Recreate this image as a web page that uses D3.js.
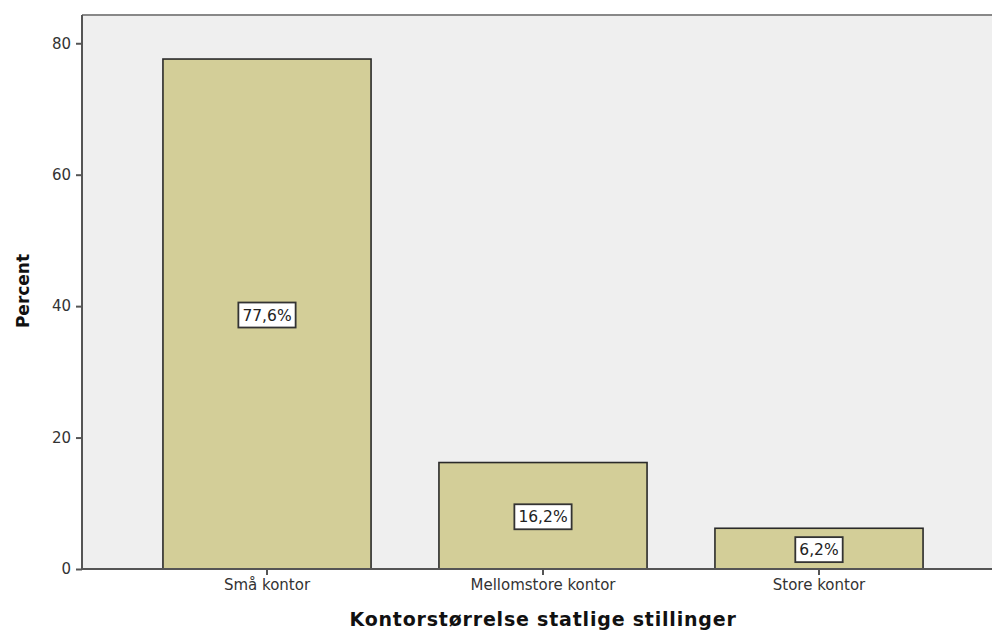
<!DOCTYPE html>
<html><head><meta charset="utf-8">
<script src="https://cdn.jsdelivr.net/npm/d3@7"></script>
<style>body{margin:0;background:#fff}svg{display:block}</style>
</head><body>
<svg id="c" width="992" height="630"></svg>
<script>
const categories = ["Små kontor", "Mellomstore kontor", "Store kontor"];
const values = [77.6, 16.2, 6.2];
const valueLabels = ["77,6%", "16,2%", "6,2%"];
const yTicks = [0, 20, 40, 60, 80];
const xTitle = "Kontorstørrelse statlige stillinger";
const yTitle = "Percent";

const svg = d3.select("#c");
const plot = {left: 82, right: 992, top: 15, bottom: 569};
const y = d3.scaleLinear().domain([0, 84.3]).range([plot.bottom, plot.top]);
const x = d3.scaleBand().domain(categories).range([129, 957]).paddingInner(0.246).paddingOuter(0.123);

svg.append("rect").attr("x", plot.left).attr("y", plot.top)
  .attr("width", plot.right - plot.left).attr("height", plot.bottom - plot.top)
  .attr("fill", "#efefef");
svg.append("line").attr("x1", plot.left).attr("x2", plot.right)
  .attr("y1", plot.top).attr("y2", plot.top).attr("stroke", "#888").attr("stroke-width", 2);

svg.selectAll("rect.bar").data(values).join("rect").attr("class", "bar")
  .attr("x", (d, i) => x(categories[i])).attr("width", x.bandwidth())
  .attr("y", d => y(d)).attr("height", d => y(0) - y(d))
  .attr("fill", "#d3ce98").attr("stroke", "#2a2a2a").attr("stroke-width", 1.6);

// y axis
const ya = svg.append("g").attr("transform", `translate(${plot.left},0)`)
  .call(d3.axisLeft(y).tickValues(yTicks).tickSize(6).tickSizeOuter(0).tickPadding(5));
ya.select(".domain").attr("stroke", "#555").attr("stroke-width", 2).attr("d", `M0,${plot.bottom}V${plot.top}`);
ya.selectAll(".tick line").attr("stroke", "#555").attr("stroke-width", 2);
ya.selectAll(".tick text").attr("font-family", "DejaVu Sans").attr("font-size", 15).attr("fill", "#333");

// x axis
const xa = svg.append("g").attr("transform", `translate(0,${plot.bottom})`)
  .call(d3.axisBottom(x).tickSize(6).tickSizeOuter(0).tickPadding(4));
xa.select(".domain").attr("stroke", "#555").attr("stroke-width", 2).attr("d", `M${plot.left},0H${plot.right}`);
xa.selectAll(".tick line").attr("stroke", "#555").attr("stroke-width", 2);
xa.selectAll(".tick text").attr("font-family", "DejaVu Sans").attr("font-size", 15).attr("fill", "#333");

// value labels
const lg = svg.selectAll("g.lbl").data(values).join("g").attr("class", "lbl")
  .attr("transform", (d, i) => `translate(${x(categories[i]) + x.bandwidth() / 2},${(y(d) + y(0)) / 2 + 1})`);
lg.append("text").text((d, i) => valueLabels[i])
  .attr("text-anchor", "middle").attr("dy", "0.36em")
  .attr("font-family", "DejaVu Sans").attr("font-size", 15.5).attr("fill", "#222");
lg.each(function () {
  const g = d3.select(this);
  const b = g.select("text").node().getBBox();
  g.insert("rect", "text").attr("x", b.x - 4).attr("y", -12.5).attr("width", b.width + 8).attr("height", 25)
    .attr("fill", "#fff").attr("stroke", "#333").attr("stroke-width", 1.8);
});

// titles
svg.append("text").text(xTitle).attr("x", 543).attr("y", 626).attr("text-anchor", "middle")
  .attr("font-family", "DejaVu Sans").attr("font-weight", "bold").attr("font-size", 19)
  .attr("letter-spacing", "0.8px").attr("fill", "#111");
svg.append("text").text(yTitle).attr("transform", "translate(29,291) rotate(-90)").attr("text-anchor", "middle")
  .attr("font-family", "DejaVu Sans").attr("font-weight", "bold").attr("font-size", 17).attr("fill", "#111");
</script>
</body></html>
